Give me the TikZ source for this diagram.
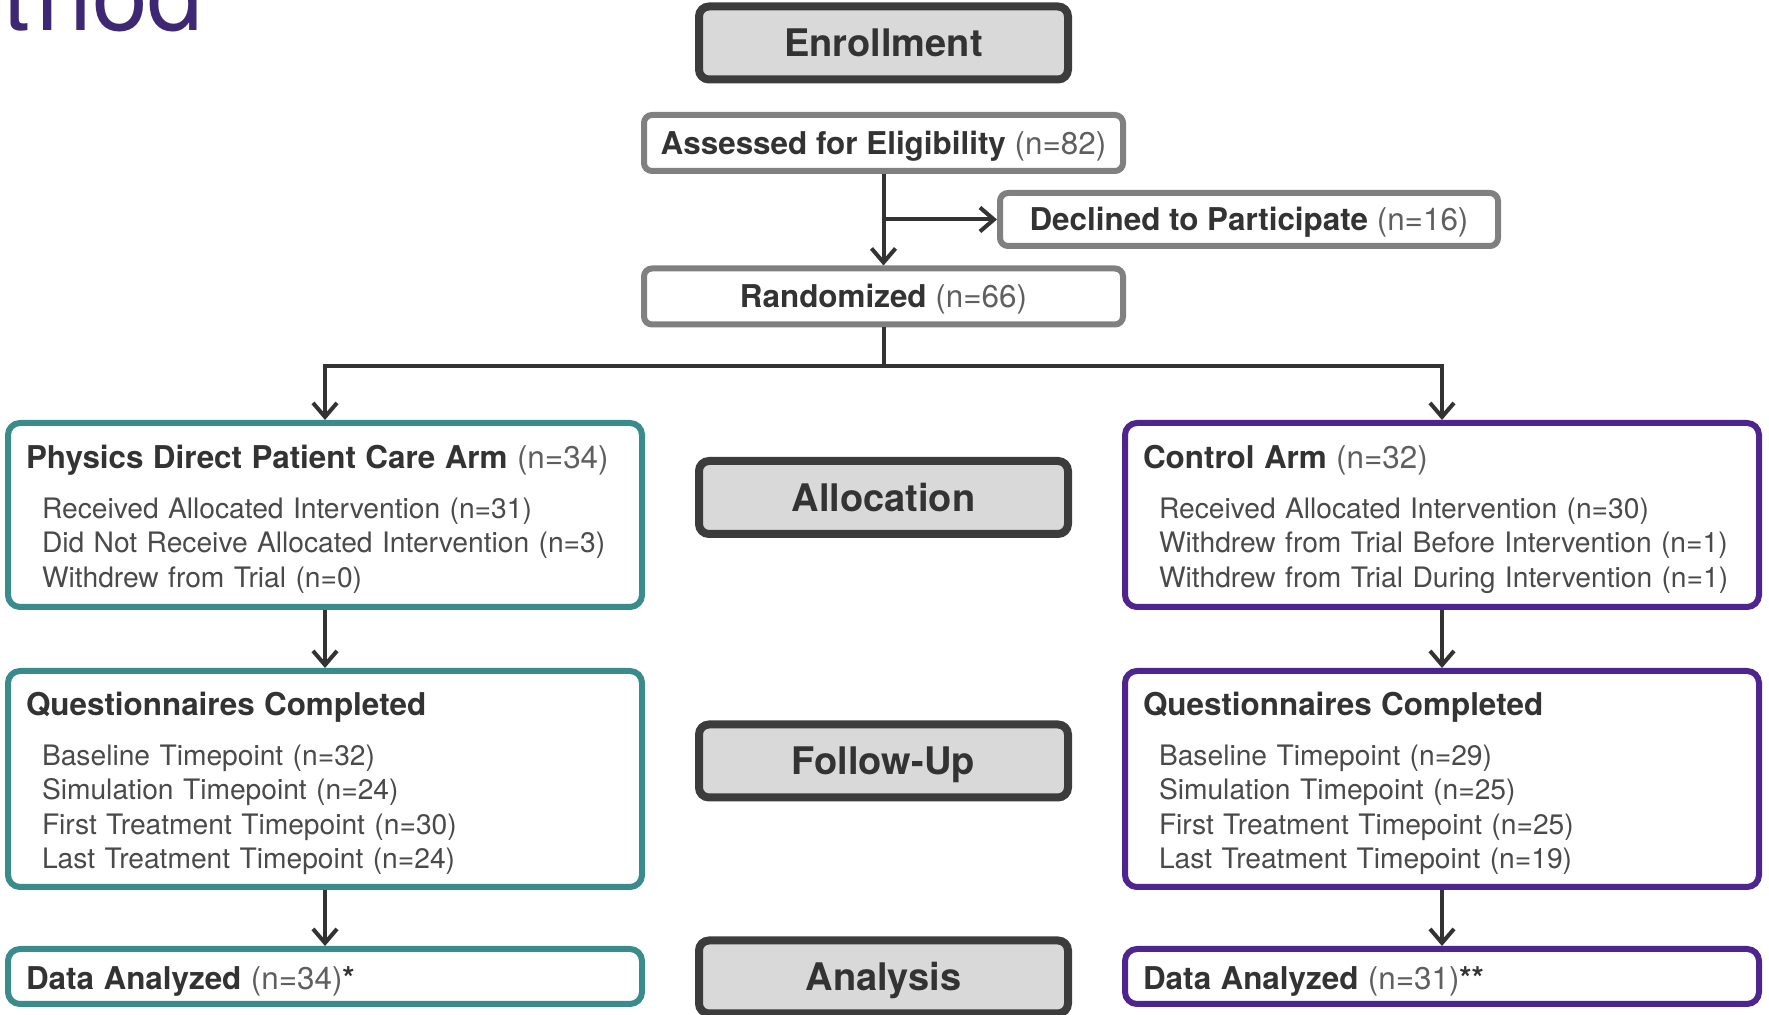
\documentclass[tikz,border=0pt]{standalone}
\usepackage{fontspec}
\setmainfont{TeX Gyre Heros}
\usetikzlibrary{arrows.meta}
\definecolor{armteal}{RGB}{58,140,140}
\definecolor{armpurple}{RGB}{78,36,142}
\definecolor{titlepurple}{RGB}{62,40,115}
\definecolor{inkgray}{RGB}{51,51,51}
\definecolor{softgray}{RGB}{95,95,95}
\definecolor{bodygray}{RGB}{74,74,74}
\definecolor{stagefill}{RGB}{217,217,217}
\definecolor{stageline}{RGB}{60,60,60}
\definecolor{boxline}{RGB}{128,128,128}
\newcommand{\nval}[1]{{\mdseries\color{softgray}#1}}
\newcommand{\armhead}[1]{{\fontsize{15.7}{19}\selectfont\bfseries\color{inkgray}\rule{0pt}{16pt}#1}}
\tikzset{
  stage/.style = 	{shape=rectangle, rounded corners=5pt,
				draw=stageline, line width=4pt, fill=stagefill,
				minimum width=184.5pt, minimum height=36.5pt, inner sep=0pt,
				text height=13.9pt, text depth=0.3pt,
				text=inkgray, font=\fontsize{19}{23}\selectfont\bfseries},
  flow/.style = 	{shape=rectangle, rounded corners=4pt,
				draw=boxline, line width=3pt, fill=white,
				minimum height=28pt, inner sep=0pt,
				text height=11.5pt, text depth=0pt,
				text=inkgray, font=\fontsize{15.7}{19}\selectfont\bfseries},
  arm/.style = 	{shape=rectangle, rounded corners=6pt, line width=3pt, fill=white,
				minimum width=317pt, inner xsep=9pt, inner ysep=0pt,
				text width=299pt, align=left,
				text=bodygray, font=\fontsize{14.1}{17.2}\selectfont},
  physarm/.style = 	{arm, draw=armteal},
  ctrlarm/.style = 	{arm, draw=armpurple},
  link/.style = 	{-{Straight Barb[length=7pt,width=12pt]}, line width=2pt, draw=inkgray},
}
\begin{document}
\begin{tikzpicture}
	[
		x = 0.5pt,
		y = -0.5pt
	]
	\useasboundingbox (0,0) rectangle (1769,1015);
	\clip (0,0) rectangle (1769,1015);
	\node [anchor=base east, inner sep=0pt, text=titlepurple,
		font=\fontsize{50}{50}\selectfont] (title) at (204,31) {t\kern3pt hod};
	% stages
	\node [stage] (enrol) at (883.5,43) {Enrollment};
	\node [stage] (alloc) at (883.5,497.5) {Allocation};
	\node [stage] (follow) at (883.5,761) {Follow-Up};
	\node [stage] (anal) at (883.5,977) {Analysis};
	% enrollment
	\node [flow, minimum width=239.5pt] (elig) at (883.5,143)
		{Assessed for Eligibility \nval{(n=82)}};
	\node [flow, minimum width=249pt, minimum height=26.5pt] (decl) at (1249,219.5)
		{Declined to Participate \nval{(n=16)}};
	\node [flow, minimum width=239.5pt] (rand) at (883.5,296.5)
		{Randomized \nval{(n=66)}};
	\coordinate (split) at (883.5,366);
	% arms
	\node [physarm, minimum height=92pt] (phys) at (325,515)
		{\armhead{Physics Direct Patient Care Arm \nval{(n=34)}}\\[7.7pt]
		\hspace*{8pt}Received Allocated Intervention (n=31)\\
		\hspace*{8pt}Did Not Receive Allocated Intervention (n=3)\\
		\hspace*{8pt}Withdrew from Trial (n=0)};
	\node [ctrlarm, minimum height=92pt] (ctrl) at (1442,515)
		{\armhead{Control Arm \nval{(n=32)}}\\[7.7pt]
		\hspace*{8pt}Received Allocated Intervention (n=30)\\
		\hspace*{8pt}Withdrew from Trial Before Intervention (n=1)\\
		\hspace*{8pt}Withdrew from Trial During Intervention (n=1)};
	\node [physarm, minimum height=108pt] (physq) at (325,779)
		{\armhead{Questionnaires Completed}\\[7.7pt]
		\hspace*{8pt}Baseline Timepoint (n=32)\\
		\hspace*{8pt}Simulation Timepoint (n=24)\\
		\hspace*{8pt}First Treatment Timepoint (n=30)\\
		\hspace*{8pt}Last Treatment Timepoint (n=24)};
	\node [ctrlarm, minimum height=108pt] (ctrlq) at (1442,779)
		{\armhead{Questionnaires Completed}\\[7.7pt]
		\hspace*{8pt}Baseline Timepoint (n=29)\\
		\hspace*{8pt}Simulation Timepoint (n=25)\\
		\hspace*{8pt}First Treatment Timepoint (n=25)\\
		\hspace*{8pt}Last Treatment Timepoint (n=19)};
	\node [physarm, minimum height=27.5pt] (physd) at (325,976.5)
		{\armhead{Data Analyzed \nval{(n=34)}*}};
	\node [ctrlarm, minimum height=27.5pt] (ctrld) at (1442,976.5)
		{\armhead{Data Analyzed \nval{(n=31)}**}};
	% connectors
	\draw [link] (elig) -- (rand);
	\draw [link] (elig.south |- decl.west) -- (decl.west);
	\draw [line width=2pt, inkgray] (rand.south) -- (split);
	\draw [link] (split) -| (phys.north);
	\draw [link] (split) -| (ctrl.north);
	\draw [link] (phys) -- (physq);
	\draw [link] (physq) -- (physd);
	\draw [link] (ctrl) -- (ctrlq);
	\draw [link] (ctrlq) -- (ctrld);
\end{tikzpicture}
\end{document}
